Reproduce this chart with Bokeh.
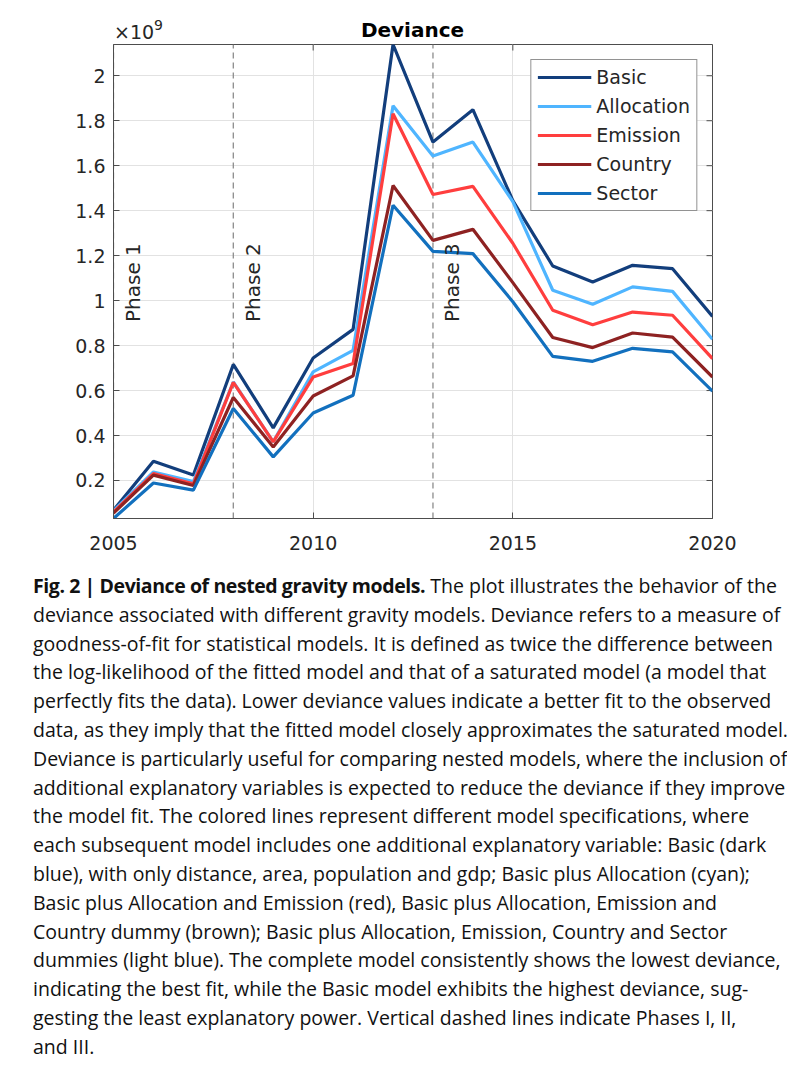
import numpy as np
from bokeh.plotting import figure
from bokeh.models import (Range1d, FixedTicker, LinearAxis, Legend, LegendItem, Div)
from bokeh.layouts import column
from bokeh.core.properties import value
from bokeh.embed import file_html
from bokeh.resources import INLINE

# ---- data (deviance, in units of 1e9) ----
years = list(range(2005, 2021))
basic = [0.068, 0.286, 0.224, 0.716, 0.434, 0.745, 0.872, 2.139, 1.705, 1.849,
         1.445, 1.154, 1.083, 1.157, 1.142, 0.930]
allocation = [0.065, 0.238, 0.195, 0.638, 0.372, 0.683, 0.779, 1.867, 1.643, 1.705,
              1.440, 1.046, 0.984, 1.061, 1.041, 0.828]
emission = [0.060, 0.231, 0.185, 0.636, 0.372, 0.660, 0.720, 1.831, 1.472, 1.508,
            1.255, 0.957, 0.893, 0.949, 0.935, 0.742]
country = [0.055, 0.224, 0.178, 0.569, 0.349, 0.576, 0.665, 1.512, 1.268, 1.317,
           1.080, 0.836, 0.791, 0.856, 0.838, 0.660]
sector = [0.031, 0.189, 0.157, 0.520, 0.305, 0.500, 0.579, 1.424, 1.219, 1.209,
          0.995, 0.752, 0.730, 0.788, 0.772, 0.597]
series_names = ["Basic", "Allocation", "Emission", "Country", "Sector"]
series_values = [basic, allocation, emission, country, sector]
colors = ["#123e7c", "#4fb5ff", "#ff3e3e", "#8e2222", "#1270be"]

phases = [2005, 2008, 2013]
phase_labels = ["Phase 1", "Phase 2", "Phase 3"]
phase_label_y = 0.905

x_ticks = [2005, 2010, 2015, 2020]
y_ticks = [0.2, 0.4, 0.6, 0.8, 1.0, 1.2, 1.4, 1.6, 1.8, 2.0]
y_tick_labels = ["0.2", "0.4", "0.6", "0.8", "1", "1.2", "1.4", "1.6", "1.8", "2"]

FONT = "DejaVu Sans"
TXT = "#262626"
AX = "#4d4d4d"
FRAME_W, FRAME_H = 599, 474
TICK = 6

ymin = min(min(s) for s in series_values)
ymax = max(max(s) for s in series_values)
xmin, xmax = years[0], years[-1]

p = figure(width=787, height=524, output_backend="svg", toolbar_location=None,
           x_range=Range1d(xmin, xmax), y_range=Range1d(ymin, ymax),
           min_border_left=113, min_border_right=75, min_border_top=4,
           min_border_bottom=46, x_axis_location=None, y_axis_location=None)
p.outline_line_color = AX
p.outline_line_width = 1
p.background_fill_color = "white"
p.border_fill_color = "white"

xt = FixedTicker(ticks=x_ticks, minor_ticks=[])
yt = FixedTicker(ticks=y_ticks, minor_ticks=[])


def style_axis(ax):
    ax.axis_line_color = AX
    ax.axis_line_width = 1
    ax.major_tick_line_color = AX
    ax.major_tick_in = TICK
    ax.major_tick_out = 0
    ax.minor_tick_line_color = None
    ax.major_label_text_font = FONT
    ax.major_label_text_font_size = "19px"
    ax.major_label_text_color = TXT


bottom = LinearAxis(ticker=xt)
style_axis(bottom)
bottom.major_label_standoff = 17
p.add_layout(bottom, "below")

left = LinearAxis(ticker=yt,
                  major_label_overrides={t: l for t, l in zip(y_ticks, y_tick_labels)})
style_axis(left)
left.major_label_standoff = 8
p.add_layout(left, "left")

p.xgrid.ticker = xt
p.ygrid.ticker = yt
for g in (p.xgrid, p.ygrid):
    g.grid_line_color = "#e2e2e2"
    g.grid_line_width = 1

# inward ticks on the top and right box edges
dy_tick = TICK * (ymax - ymin) / FRAME_H
dx_tick = TICK * (xmax - xmin) / FRAME_W
p.segment(x0=x_ticks, y0=[ymax] * len(x_ticks), x1=x_ticks,
          y1=[ymax - dy_tick] * len(x_ticks), line_color=AX, line_width=1)
p.segment(x0=[xmax] * len(y_ticks), y0=y_ticks, x1=[xmax - dx_tick] * len(y_ticks),
          y1=y_ticks, line_color=AX, line_width=1)

# phase dashed lines
p.segment(x0=phases, y0=[ymin] * len(phases), x1=phases, y1=[ymax] * len(phases),
          line_color="#8c8c8c", line_width=1.3, line_dash="6 4")

# lines
items = []
for name, vals, c in zip(series_names, series_values, colors):
    r = p.line(years, vals, line_color=c, line_width=3.2)
    items.append(LegendItem(label=name, renderers=[r]))

# phase labels
p.text(x=phases, y=[phase_label_y] * len(phases), text=phase_labels,
       angle=np.pi / 2, text_font=value(FONT), text_font_size="20px",
       text_color=TXT, text_align="left", text_baseline="middle", x_offset=19.5)

legend = Legend(items=items, location="top_right", margin=15, padding=6,
                spacing=7, glyph_width=54, glyph_height=20, label_height=20,
                label_standoff=5, label_text_font=FONT, label_text_font_size="19px",
                label_text_color=TXT, border_line_color=TXT, border_line_width=1,
                background_fill_color="white", background_fill_alpha=1)
p.add_layout(legend)

# header: exponent marker and title
header_html = (
    '<div style="position:relative; width:787px; height:40px;">'
    '<span style="position:absolute; left:114px; top:23px; line-height:19px; '
    'font-family:\'DejaVu Sans\'; font-size:19px; color:#262626; white-space:nowrap;">'
    '×10<span style="position:relative; top:-9px; font-size:14px;">9</span></span>'
    '<span style="position:absolute; left:212px; width:401px; top:20px; '
    'line-height:20px; text-align:center; font-family:\'DejaVu Sans\'; '
    'font-size:20px; font-weight:bold; color:#000;">Deviance</span>'
    '</div>'
)
header = Div(text=header_html, width=787, height=40, margin=0)

caption_lines = [
    '<b style="letter-spacing:-0.42px;">Fig. 2 | Deviance of nested gravity models.</b> The plot illustrates the behavior of the',
    "deviance associated with different gravity models. Deviance refers to a measure of",
    "goodness-of-fit for statistical models. It is defined as twice the difference between",
    "the log-likelihood of the fitted model and that of a saturated model (a model that",
    "perfectly fits the data). Lower deviance values indicate a better fit to the observed",
    "data, as they imply that the fitted model closely approximates the saturated model.",
    "Deviance is particularly useful for comparing nested models, where the inclusion of",
    "additional explanatory variables is expected to reduce the deviance if they improve",
    "the model fit. The colored lines represent different model specifications, where",
    "each subsequent model includes one additional explanatory variable: Basic (dark",
    "blue), with only distance, area, population and gdp; Basic plus Allocation (cyan);",
    "Basic plus Allocation and Emission (red), Basic plus Allocation, Emission and",
    "Country dummy (brown); Basic plus Allocation, Emission, Country and Sector",
    "dummies (light blue). The complete model consistently shows the lowest deviance,",
    "indicating the best fit, while the Basic model exhibits the highest deviance, sug-",
    "gesting the least explanatory power. Vertical dashed lines indicate Phases I, II,",
    "and III.",
]
caption_html = ('<div style="font-family: \'Open Sans\', sans-serif; font-size: 19.5px; '
                'line-height: 28.8px; color: #111111; white-space: nowrap; '
                'padding-left: 33px; padding-top: 8px;">'
                + "<br>".join(caption_lines) + "</div>")
cap = Div(text=caption_html, width=787, height=500, margin=0)

layout = column(header, p, cap, spacing=0)
open("out.html", "w").write(file_html(layout, INLINE))
